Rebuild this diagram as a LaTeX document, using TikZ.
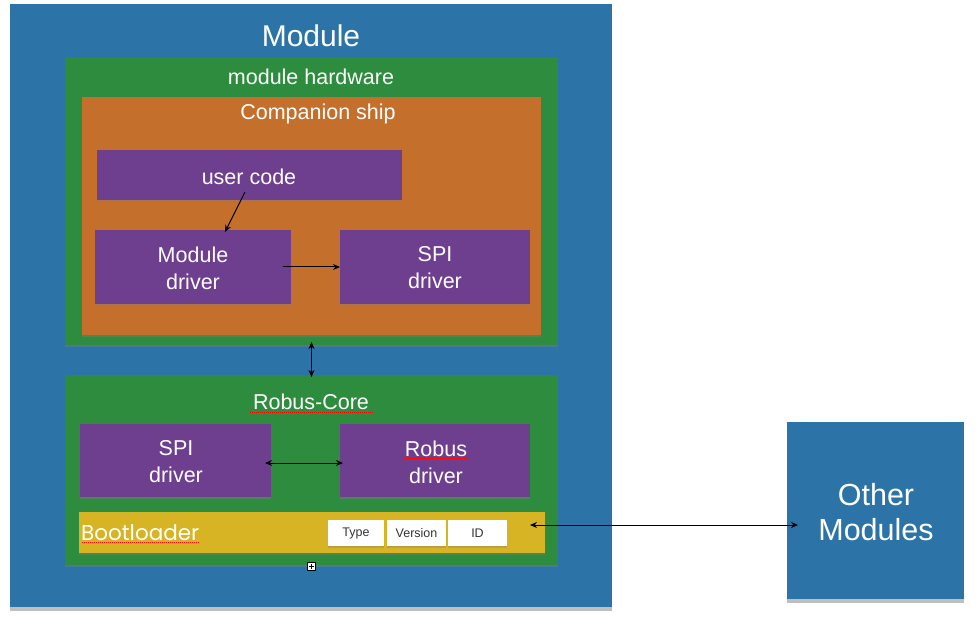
\documentclass[tikz,border=0pt]{standalone}
\usepackage{fontspec}
\setmainfont{Liberation Sans}
\newfontfamily\bootfont{Poppins}
\usetikzlibrary{arrows.meta,shadows,calc}
\definecolor{modblue}{RGB}{44,116,168}
\definecolor{hwgreen}{RGB}{46,140,62}
\definecolor{chorange}{RGB}{196,112,44}
\definecolor{drvpurple}{RGB}{110,62,143}
\definecolor{bootyellow}{RGB}{214,180,36}
\tikzset{
  box/.style={draw=none, inner sep=0pt, outer sep=0pt},
  shad/.style={drop shadow={opacity=0.35, shadow xshift=0pt, shadow yshift=-2pt}},
  lbl/.style={text=white, inner sep=0pt, align=center},
  big/.style={font=\fontsize{21.5}{27}\selectfont},
  tag/.style={box, fill=white, minimum height=26pt, font=\fontsize{12.5}{14}\selectfont, text=black!80, shad},
  arr/.style={-{Stealth[length=7pt,width=6pt]}, line width=1pt, black},
  darr/.style={{Stealth[length=7pt,width=6pt]}-{Stealth[length=7pt,width=6pt]}, line width=1pt, black},
  spell/.style={red, line width=0.7pt, dash pattern=on 1pt off 1pt}
}
\begin{document}
\begin{tikzpicture}[x=1pt,y=-1pt]
\useasboundingbox (0,0) rectangle (977,617);
\fill[white] (0,0) rectangle (977,617);
% main module
\node[box, fill=modblue, minimum width=602pt, minimum height=603pt, drop shadow={opacity=0.5, shadow xshift=0pt, shadow yshift=-4pt}] (module) at (311,305.5) {};
\node[lbl, font=\fontsize{30}{34}\selectfont] (modlbl) at (311,36) {Module};
% module hardware
\node[box, fill=hwgreen, minimum width=493pt, minimum height=288pt, shad] (hw) at (311.5,201) {};
\node[lbl, big] (hwlbl) at (311,77) {module hardware};
% companion chip
\node[box, fill=chorange, minimum width=459pt, minimum height=238pt, shad] (comp) at (311.5,216) {};
\node[lbl, big] (complbl) at (318,114) {Companion ship};
% user code
\node[box, fill=drvpurple, minimum width=305pt, minimum height=50pt, shad] (ucode) at (249.5,175) {};
\node[lbl, big] (ucodelbl) at (249,177) {user code};
% module driver
\node[box, fill=drvpurple, minimum width=196pt, minimum height=74pt, shad] (mdrv) at (193,267) {};
\node[lbl, big] (mdrvlbl) at (193,268) {Module\\driver};
% SPI driver top
\node[box, fill=drvpurple, minimum width=190pt, minimum height=74pt, shad] (spia) at (435,267) {};
\node[lbl, big] (spialbl) at (435,268) {SPI\\driver};
% Robus core
\node[box, fill=hwgreen, minimum width=493pt, minimum height=190pt, shad] (core) at (311.5,470) {};
\node[lbl, big] (corelbl) at (311,402) {Robus-Core};
\draw[spell] (250,412) -- (373,412);
% SPI driver bottom
\node[box, fill=drvpurple, minimum width=191pt, minimum height=73pt, shad] (spib) at (175.5,460.5) {};
\node[lbl, big] (spiblbl) at (176,462) {SPI\\driver};
% Robus driver
\node[box, fill=drvpurple, minimum width=190pt, minimum height=73pt, shad] (robus) at (435,460.5) {};
\node[lbl, big] (robuslbl) at (436,462) {Robus\\driver};
\draw[spell] (404,458) -- (468,458);
% Bootloader
\node[box, fill=bootyellow, minimum width=466pt, minimum height=41pt, shad] (boot) at (312,532.5) {};
\node[lbl, font=\bootfont\fontsize{21.5}{24}\selectfont, anchor=west] (bootlbl) at (81,533) {Bootloader};
\draw[spell] (82,542) -- (200,542);
\node[tag, minimum width=56pt] (type) at (356,533) {Type};
\node[tag, minimum width=59pt] (version) at (416.5,533) {Version};
\node[tag, minimum width=59pt] (id) at (477.5,533) {ID};
% small handle
\node[box, draw=black, line width=0.6pt, fill=white, minimum width=8pt, minimum height=8pt] (handle) at (311.5,566.5) {};
\draw[line width=0.6pt] ($(handle.west)+(1.5,0)$) -- ($(handle.east)+(-1.5,0)$);
\draw[line width=0.6pt] ($(handle.north)+(0,1.5)$) -- ($(handle.south)+(0,-1.5)$);
% other modules
\node[box, fill=modblue, minimum width=177pt, minimum height=177pt, drop shadow={opacity=0.5, shadow xshift=0pt, shadow yshift=-4pt}] (other) at (875.5,510.5) {};
\node[lbl, font=\fontsize{30.5}{35}\selectfont] (otherlbl) at (876,512) {Other\\Modules};
% connectors
\draw[arr] ([xshift=-4.5pt,yshift=8pt]ucode.south) -- ([xshift=32pt,yshift=-2pt]mdrv.north);
\draw[arr] ([xshift=-8pt]mdrv.east) -- (spia.west);
\draw[darr] ([yshift=3pt]hw.south) -- ([yshift=-2pt]core.north);
\draw[darr] ([xshift=-6pt,yshift=-2.5pt]spib.east) -- ([xshift=3pt,yshift=-2.5pt]robus.west);
\draw[darr] ([xshift=-15pt,yshift=7.5pt]boot.east) -- ([xshift=11pt,yshift=-14.5pt]other.west);
\end{tikzpicture}
\end{document}
